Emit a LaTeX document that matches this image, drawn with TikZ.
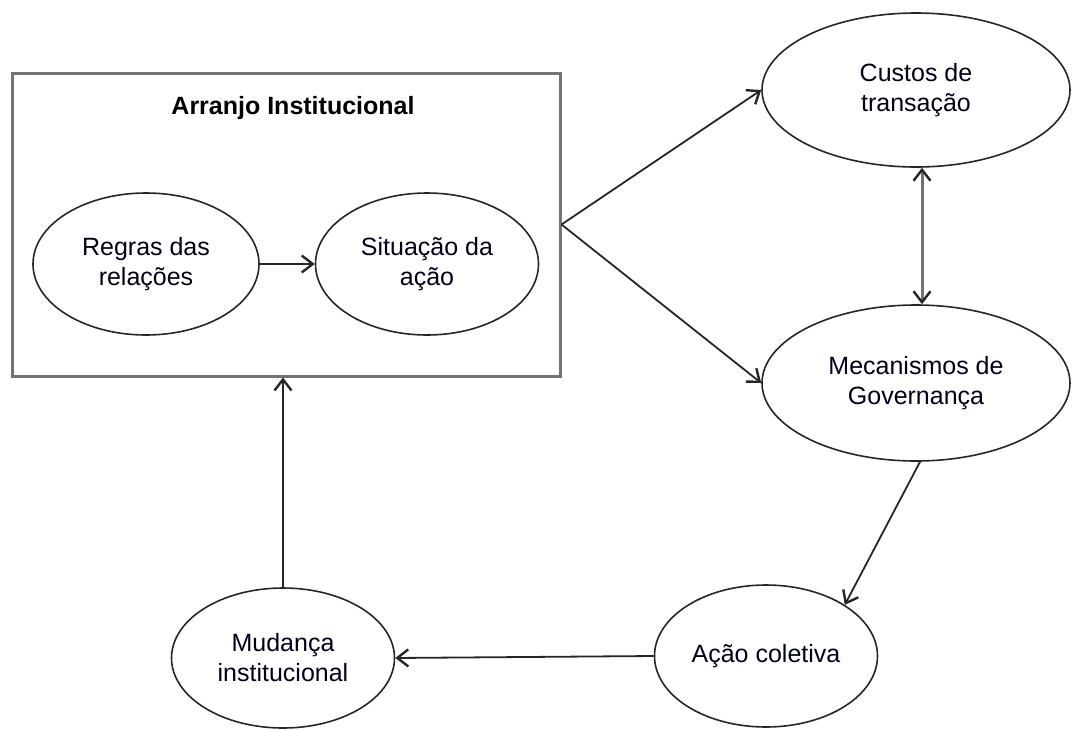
\documentclass[tikz,border=0pt]{standalone}
\usepackage{fontspec}
\setmainfont{Liberation Sans}
\usetikzlibrary{shapes.geometric,arrows.meta,calc}
\begin{document}
\begin{tikzpicture}[x=1pt,y=-1pt,
  oval/.style={draw=black!85,line width=1.6pt,ellipse,inner sep=0pt,align=center,
    font=\fontsize{25}{30}\selectfont,text=black!90!blue},
  conn/.style={line width=1.8pt,draw=black!85,-{Straight Barb[length=11pt,width=17pt,line width=2.4pt]}},
  frame/.style={draw=black!55,line width=3pt,inner sep=0pt}
]
\useasboundingbox (0,0) rectangle (1072,729);
\node[frame,minimum width=548pt,minimum height=303pt] (arr) at (286,224.5) {};
\node[font=\bfseries\fontsize{25}{30}\selectfont] (title) at (293,108) {Arranjo Institucional};
\node[oval,minimum width=226pt,minimum height=142pt] (reg) at (146,264) {Regras das\\relações};
\node[oval,minimum width=223pt,minimum height=142pt] (sit) at (427,264) {Situação da\\ação};
\node[oval,minimum width=308pt,minimum height=154pt] (cus) at (916,90) {Custos de\\transação};
\node[oval,minimum width=308pt,minimum height=156pt] (mec) at (916,383) {Mecanismos de\\Governança};
\node[oval,minimum width=223pt,minimum height=142pt] (ac) at (766,656) {Ação coletiva};
\node[oval,minimum width=223pt,minimum height=140pt] (mud) at (283,658) {Mudança\\institucional};
\draw[conn] (reg) -- (sit);
\draw[conn] (arr.east) -- (cus.west);
\draw[conn] (arr.east) -- (mec.west);
\draw[line width=3pt,draw=black!55,{Straight Barb[length=11pt,width=17pt,line width=2.4pt,color=black!85]}-{Straight Barb[length=11pt,width=17pt,line width=2.4pt,color=black!85]}] ($(cus.south)+(6,0)$) -- ($(mec.north)+(6,0)$);
\draw[conn] ($(mec.south)+(4,0)$) -- (ac.33);
\draw[conn] (ac.west) -- (mud.east);
\draw[conn] (mud.north) -- (arr.south -| mud.north);
\end{tikzpicture}
\end{document}
